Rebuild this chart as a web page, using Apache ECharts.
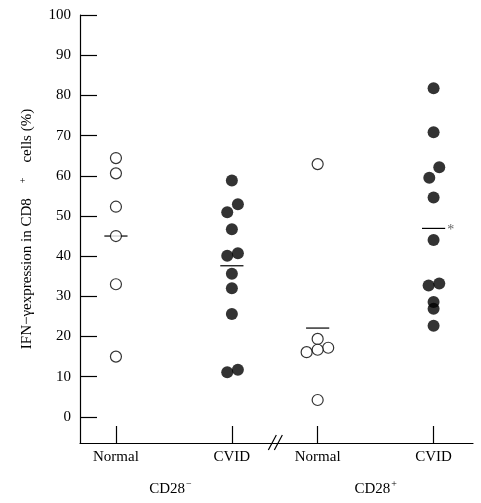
<!DOCTYPE html>
<html><head><meta charset="utf-8">
<script src="https://cdn.jsdelivr.net/npm/echarts@6/dist/echarts.min.js"></script>
<style>html,body{margin:0;padding:0;background:#fff}#c{width:481px;height:503px}</style>
</head><body><div id="c"></div>
<script>
// ---- data ----
const groupNames = ['Normal', 'CVID', 'Normal', 'CVID'];
const groupPos = [1, 2, 2.74, 3.74];
const subsetLabels = ['CD28', 'CD28'];
const subsetSigns = ['−', '+'];
const subsetPos = [1.47, 3.24];
const yTicks = [0, 10, 20, 30, 40, 50, 60, 70, 80, 90, 100];
const breakPos = 2.375;

const cd28negNormal = [64.4, 60.6, 52.3, 45.0, 33.0, 15.0];
const cd28negNormalJitter = [0, 0, 0, 0, 0, 0];
const cd28negCvid = [58.8, 52.9, 50.9, 46.7, 40.7, 40.1, 35.6, 32.0, 25.6, 11.7, 11.1];
const cd28negCvidJitter = [0, 0.052, -0.04, 0, 0.052, -0.04, 0, 0, 0, 0.052, -0.04];
const cd28posNormal = [62.9, 19.4, 16.1, 17.2, 16.7, 4.2];
const cd28posNormalJitter = [0, 0, -0.095, 0.091, 0, 0];
const cd28posCvid = [81.8, 70.8, 62.1, 59.5, 54.6, 44.0, 33.2, 32.7, 28.6, 26.9, 22.7];
const cd28posCvidJitter = [0, 0, 0.049, -0.037, 0, 0, 0.049, -0.043, 0, 0, 0];
const meanValues = [45.0, 37.6, 22.1, 46.9];
const meanMarks = ['', '', '', '*'];

// ---- styling ----
const FONT = 'Liberation Serif';
const meanHalfWidth = 0.1;
const yMin = -6.5, yMax = 100;
const xMin = 0.69, xMax = 4.08;

function pts(vals, jit, gi) {
  return vals.map((v, i) => [groupPos[gi] + jit[i], v]);
}
const openStyle = { color: '#fff', borderColor: '#000', borderWidth: 1.2 };
const fillStyle = { color: '#000', borderColor: '#000', borderWidth: 0 };

const chart = echarts.init(document.getElementById('c'), null, { renderer: 'canvas' });
chart.setOption({
  animation: false,
  backgroundColor: '#fff',
  grid: { left: 80, right: 8, top: 15, bottom: 60, containLabel: false, outerBoundsMode: 'none' },
  xAxis: [{
    type: 'value', min: xMin, max: xMax, position: 'bottom',
    axisLine: { show: true, onZero: false, lineStyle: { color: '#000', width: 1.2 } },
    axisTick: { show: true, inside: true, length: 17, customValues: groupPos, lineStyle: { color: '#000', width: 1.2 } },
    axisLabel: {
      customValues: groupPos, margin: 7, color: '#000', fontFamily: FONT, fontSize: 15,
      formatter: v => { const i = groupPos.findIndex(p => Math.abs(p - v) < 1e-6); return i >= 0 ? groupNames[i] : ''; }
    },
    splitLine: { show: false }
  }, {
    type: 'value', min: xMin, max: xMax, position: 'bottom', offset: 0,
    axisLine: { show: false }, axisTick: { show: false }, splitLine: { show: false },
    axisLabel: {
      customValues: subsetPos, margin: 36, color: '#000', fontFamily: FONT, fontSize: 15,
      formatter: v => { const i = subsetPos.findIndex(p => Math.abs(p - v) < 1e-6); return i >= 0 ? subsetLabels[i] + '{sup|' + subsetSigns[i] + '}' : ''; },
      rich: { sup: { fontFamily: FONT, fontSize: 10, color: '#000', padding: [0, 0, 10, 1] } }
    }
  }],
  yAxis: {
    type: 'value', min: yMin, max: yMax,
    axisLine: { show: true, onZero: false, lineStyle: { color: '#000', width: 1.2 } },
    axisTick: { show: true, inside: true, length: 17, customValues: yTicks, lineStyle: { color: '#000', width: 1.2 } },
    axisLabel: { customValues: yTicks, margin: 9, color: '#000', fontFamily: FONT, fontSize: 15 },
    splitLine: { show: false },
    name: 'IFN−γexpression in CD8    {sup|+}    cells (%)',
    nameLocation: 'middle', nameRotate: 90, nameGap: 43,
    nameTextStyle: { color: '#000', fontFamily: FONT, fontSize: 15,
      rich: { sup: { fontFamily: FONT, fontSize: 10, color: '#000', padding: [0, 0, 9, 0] } } }
  },
  series: [
    { type: 'scatter', symbol: 'circle', symbolSize: 11, itemStyle: openStyle, data: pts(cd28negNormal, cd28negNormalJitter, 0), z: 3 },
    { type: 'scatter', symbol: 'circle', symbolSize: 12, itemStyle: fillStyle, data: pts(cd28negCvid, cd28negCvidJitter, 1), z: 3 },
    { type: 'scatter', symbol: 'circle', symbolSize: 11, itemStyle: openStyle, data: pts(cd28posNormal, cd28posNormalJitter, 2), z: 3 },
    { type: 'scatter', symbol: 'circle', symbolSize: 12, itemStyle: fillStyle, data: pts(cd28posCvid, cd28posCvidJitter, 3), z: 3 },
    {
      type: 'custom', z: 2,
      data: meanValues.map((v, i) => [groupPos[i], v, i]),
      renderItem: (params, api) => {
        const c = api.coord([api.value(0), api.value(1)]);
        const half = api.size([meanHalfWidth, 0])[0];
        const children = [{ type: 'line', shape: { x1: c[0] - half, y1: c[1], x2: c[0] + half, y2: c[1] }, style: { stroke: '#000', lineWidth: 1.2 } }];
        const m = meanMarks[api.value(2)];
        if (m) children.push({ type: 'text', x: c[0] + half + 2, y: c[1] + 2, style: { text: m, fill: '#666', font: '14px "Liberation Serif"', verticalAlign: 'middle' } });
        return { type: 'group', children };
      }
    },
    {
      type: 'custom', z: 5, clip: false,
      data: [[breakPos, yMin]],
      renderItem: (params, api) => {
        const c = api.coord([api.value(0), api.value(1)]);
        const mk = dx => ({ type: 'line', shape: { x1: c[0] - 7 + dx, y1: c[1] + 7, x2: c[0] + 1 + dx, y2: c[1] - 8 }, style: { stroke: '#000', lineWidth: 1.2 } });
        return { type: 'group', children: [mk(0), mk(6)] };
      }
    }
  ]
});
</script></body></html>
